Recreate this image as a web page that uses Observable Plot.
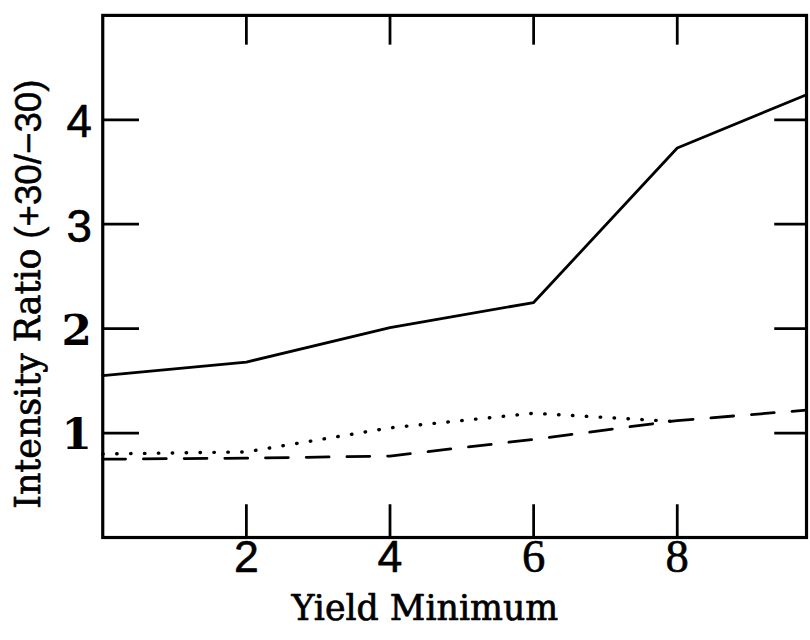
<!DOCTYPE html>
<html>
<head>
<meta charset="utf-8">
<script src="https://cdn.jsdelivr.net/npm/d3@7"></script>
<script src="https://cdn.jsdelivr.net/npm/@observablehq/plot@0.6"></script>
<style>
  html, body { margin: 0; padding: 0; background: #fff; overflow: hidden; }
  #chart { width: 810px; height: 640px; overflow: hidden; }
</style>
</head>
<body>
<div id="chart"></div>
<script>
// ---- data ----
const yieldMinimum = [0, 2, 4, 6, 8, 9.8];
const solidRatio   = [1.55, 1.68, 2.01, 2.25, 3.73, 4.24];
const dashedRatio  = [0.75, 0.76, 0.78, 0.94, 1.12, 1.22];
const dottedX      = [0, 2, 4, 6, 8];
const dottedRatio  = [0.80, 0.82, 1.05, 1.19, 1.11];

const xTicks = [2, 4, 6, 8];
const yTicks = [1, 2, 3, 4];
const xSansTicks = ["2", "4"];
const xSerifTicks = ["6", "8"];
const ySansTicks = ["3", "4"];
const ySerifTicks = ["1", "2"];
const xTitle = "Yield Minimum";
const yTitleMain = "Intensity Ratio";
const yTitleUnit = "(+30/\u221230)";

const solid = yieldMinimum.map((x, i) => ({x, y: solidRatio[i]}));
const dashed = yieldMinimum.map((x, i) => ({x, y: dashedRatio[i]}));
const dotted = dottedX.map((x, i) => ({x, y: dottedRatio[i]}));

const sans = "Liberation Sans, Arial, sans-serif";
const serif = "DejaVu Serif, serif";

const W = 816, H = 640, ML = 103, MR = 4, MT = 15, MB = 99;
const innerW = W - ML - MR, innerH = H - MT - MB;
const xMax = 9.8, yMax = 5;
// convert inward tick lengths (pixels) into scale units
const xPerPx = xMax / innerW, yPerPx = yMax / innerH;

const chart = Plot.plot({
  width: W,
  height: H,
  marginLeft: ML,
  marginRight: MR,
  marginTop: MT,
  marginBottom: MB,
  x: {domain: [0, xMax], axis: null},
  y: {domain: [0, yMax], axis: null},
  marks: [
    // inward ticks on all four sides
    Plot.ruleX(xTicks, {x: d => d, y1: 0, y2: 33 * yPerPx, stroke: "#000", strokeWidth: 2.8}),
    Plot.ruleX(xTicks, {x: d => d, y1: yMax - 30 * yPerPx, y2: yMax, stroke: "#000", strokeWidth: 2.8}),
    Plot.ruleY(yTicks, {y: d => d, x1: 0, x2: 37 * xPerPx, stroke: "#000", strokeWidth: 2.8}),
    Plot.ruleY(yTicks, {y: d => d, x1: xMax - 32 * xPerPx, x2: xMax, stroke: "#000", strokeWidth: 2.8}),
    Plot.frame({stroke: "#000", strokeWidth: 3.2}),
    // tick labels
    Plot.text(xTicks.filter(d => xSansTicks.includes(String(d))), {
      x: d => d, text: d => String(d), frameAnchor: "bottom", dy: 35,
      fontFamily: sans, fontSize: 45, fill: "#000", stroke: "#000", strokeWidth: 0.6
    }),
    Plot.text(xTicks.filter(d => xSerifTicks.includes(String(d))), {
      x: d => d, text: d => String(d), frameAnchor: "bottom", dy: 35,
      fontFamily: "Liberation Serif, serif", fontSize: 47, fill: "#000", stroke: "#000", strokeWidth: 0.6
    }),
    Plot.text(yTicks.filter(d => ySansTicks.includes(String(d))), {
      y: d => d, text: d => String(d), frameAnchor: "left", dx: -11, dy: 3, textAnchor: "end",
      fontFamily: sans, fontSize: 46, fill: "#000", stroke: "#000", strokeWidth: 0.6
    }),
    Plot.text(yTicks.filter(d => ySerifTicks.includes(String(d))), {
      y: d => d, text: d => String(d), frameAnchor: "left", dx: -11, dy: 2, textAnchor: "end",
      fontFamily: serif, fontWeight: "bold", fontSize: 44, fill: "#000"
    }),
    // axis titles
    Plot.text([xTitle], {
      text: d => d, frameAnchor: "bottom", dx: -30, dy: 83,
      fontFamily: serif, fontSize: 35, fill: "#000", stroke: "#000", strokeWidth: 0.7
    }),
    Plot.text([yTitleMain], {
      text: d => d, frameAnchor: "left", rotate: -90, textAnchor: "start",
      dx: -74, dy: 234, fontFamily: serif, fontSize: 35, fill: "#000", stroke: "#000", strokeWidth: 0.7
    }),
    Plot.text([yTitleUnit], {
      text: d => d, frameAnchor: "left", rotate: -90, textAnchor: "start",
      dx: -74, dy: -38, fontFamily: sans, fontSize: 37, fill: "#000", stroke: "#000", strokeWidth: 0.5
    }),
    // series
    Plot.line(solid, {x: "x", y: "y", stroke: "#000", strokeWidth: 2.8}),
    Plot.line(dashed, {x: "x", y: "y", stroke: "#000", strokeWidth: 2.8, strokeDasharray: "23,18"}),
    Plot.line(dotted, {x: "x", y: "y", stroke: "#000", strokeWidth: 3.4, strokeDasharray: "0.5,13.5", strokeLinecap: "round"})
  ]
});
document.getElementById("chart").appendChild(chart);
</script>
</body>
</html>
